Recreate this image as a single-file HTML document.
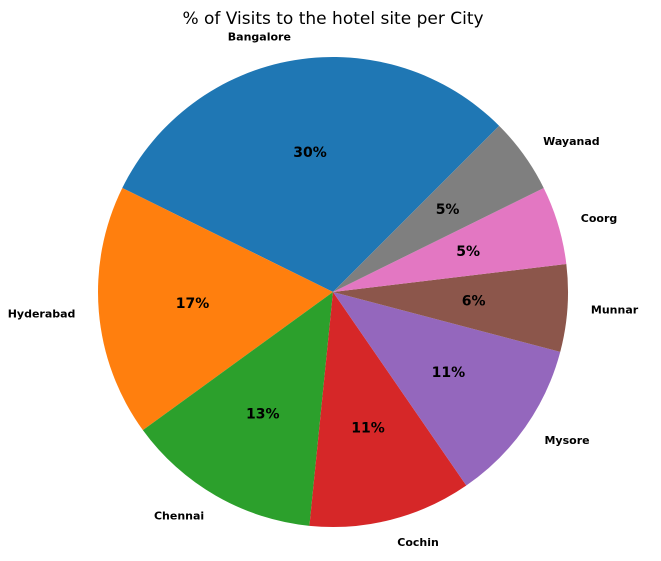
<!DOCTYPE html>
<html><head><meta charset="utf-8"><style>
body{margin:0;background:#fff;}
svg{display:block;font-family:"DejaVu Sans","Liberation Sans",sans-serif;}
</style></head><body>
<svg id="chart" width="661" height="561" viewBox="0 0 661 561">
<text x="333" y="24" text-anchor="middle" font-size="17" fill="#000">% of Visits to the hotel site per City</text>
<g id="slices"></g>
<g id="labels"></g>
</svg>
<script>
const categories = ["Bangalore","Hyderabad","Chennai","Cochin","Mysore","Munnar","Coorg","Wayanad"];
const values = [30.2, 17.3, 13.4, 11.2, 11.3, 6.0, 5.4, 5.2];
const colors = ["#1f77b4","#ff7f0e","#2ca02c","#d62728","#9467bd","#8c564b","#e377c2","#7f7f7f"];
const startAngle = 45;
const cx = 333, cy = 292, R = 235;
const NS = "http://www.w3.org/2000/svg";
const total = values.reduce((a,b)=>a+b,0);
function pt(deg, r){const a=deg*Math.PI/180;return [cx+r*Math.cos(a), cy-r*Math.sin(a)];}
const gS=document.getElementById('slices'), gL=document.getElementById('labels');
let ang=startAngle;
values.forEach((v,i)=>{
  const sweep=v/total*360, a0=ang, a1=ang+sweep, mid=(a0+a1)/2;
  const p0=pt(a0,R), p1=pt(a1,R);
  const path=document.createElementNS(NS,'path');
  path.setAttribute('d',`M${cx},${cy} L${p0[0]},${p0[1]} A${R},${R} 0 ${sweep>180?1:0} 0 ${p1[0]},${p1[1]} Z`);
  path.setAttribute('fill',colors[i]);
  
  
  gS.appendChild(path);
  const pl=pt(mid,R*1.1);
  const t=document.createElementNS(NS,'text');
  t.setAttribute('x',pl[0]);t.setAttribute('y',pl[1]);
  t.setAttribute('text-anchor',pl[0]>=cx?'start':'end');
  t.setAttribute('dominant-baseline','central');
  t.setAttribute('font-size','11');t.setAttribute('font-weight','bold');
  t.textContent=categories[i];
  
  
  gL.appendChild(t);
  const pp=pt(mid,R*0.6);
  const q=document.createElementNS(NS,'text');
  q.setAttribute('x',pp[0]);q.setAttribute('y',pp[1]);
  q.setAttribute('text-anchor','middle');q.setAttribute('dominant-baseline','central');
  q.setAttribute('font-size','14');q.setAttribute('font-weight','bold');
  q.textContent=Math.round(v/total*100)+'%';
  
  
  gL.appendChild(q);
  ang=a1;
});
</script>
</body></html>
